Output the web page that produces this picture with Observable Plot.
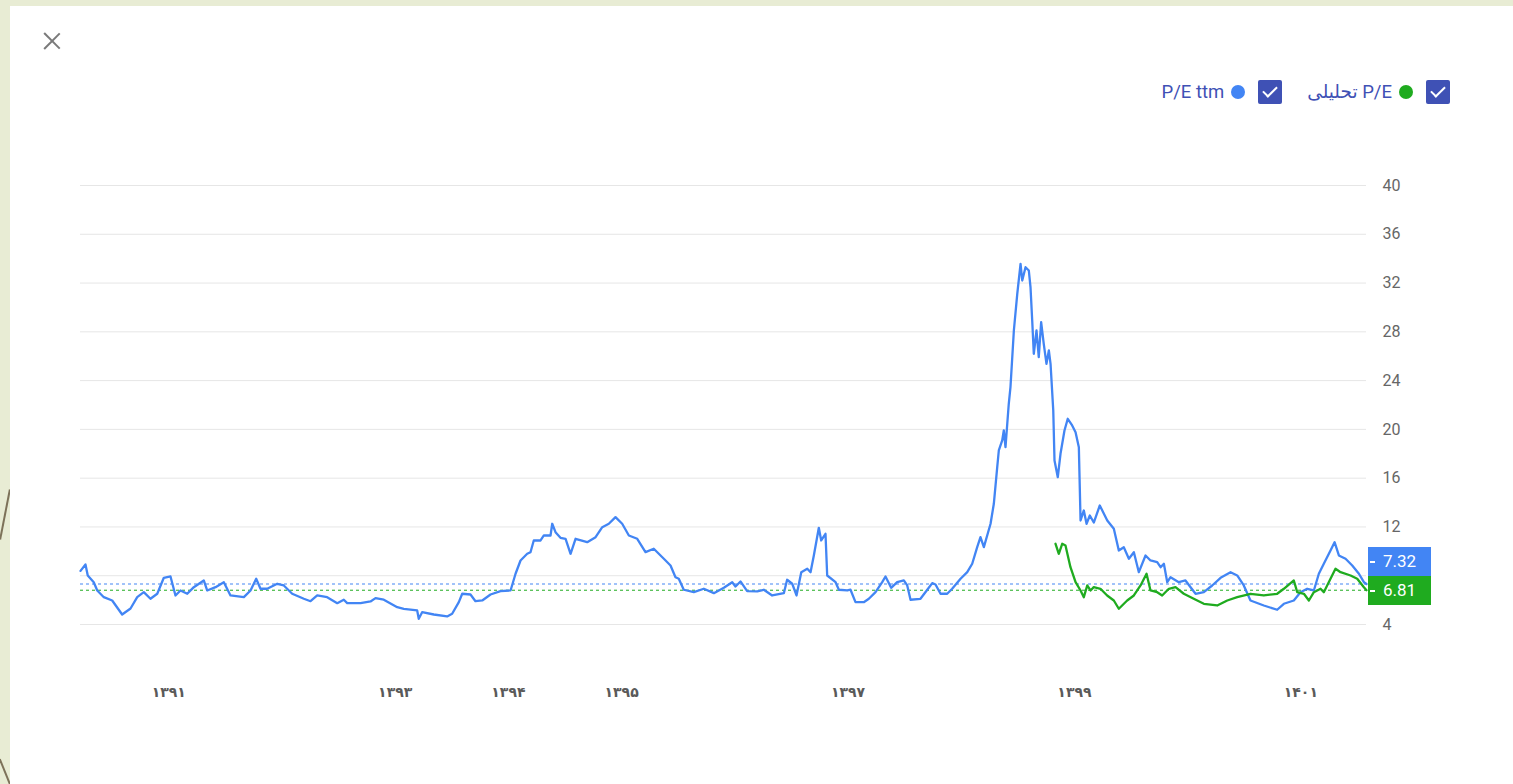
<!DOCTYPE html>
<html><head><meta charset="utf-8">
<script src="https://cdn.jsdelivr.net/npm/d3@7"></script>
<script src="https://cdn.jsdelivr.net/npm/@observablehq/plot@0.6"></script>
<style>
body{margin:0;background:#e8ecd4;width:1513px;height:784px;overflow:hidden;position:relative;font-family:Roboto,"DejaVu Sans",sans-serif;}
#card{position:absolute;left:10px;top:6px;width:1503px;height:778px;background:#fff;}
.deco{position:absolute;width:2px;background:#7d7259;}
#close{position:absolute;left:33px;top:26px;width:18px;height:18px;}
#close:before,#close:after{content:"";position:absolute;left:8px;top:-2px;width:1.6px;height:22px;background:#7a7a7a;}
#close:before{transform:rotate(45deg);} #close:after{transform:rotate(-45deg);}
#legend{position:absolute;right:63px;top:74px;display:flex;direction:rtl;align-items:center;font-size:18.5px;color:#3f51b5;}
.item{display:flex;align-items:center;direction:rtl;margin-left:25px;}
.cb{width:24px;height:24px;background:#3f51b5;border-radius:2px;position:relative;margin-left:13px;}
.cb:after{content:"";position:absolute;left:8px;top:3px;width:6px;height:12px;border:solid #fff;border-width:0 2.5px 2.5px 0;transform:rotate(45deg);}
.dot{width:14px;height:14px;border-radius:50%;margin-left:7px;}
#chart{position:absolute;left:0;top:144px;}
.badge{position:absolute;left:1358px;width:63px;height:29px;color:#fff;font-size:17px;line-height:29px;text-align:center;}
.badge:before{content:"";position:absolute;left:2px;top:14px;width:5px;height:1.5px;background:#fff;}
</style></head>
<body>
<div class="deco" style="left:4px;top:489px;height:51px;transform:rotate(11deg)"></div>
<div class="deco" style="left:4px;top:758px;height:28px;transform:rotate(-22deg)"></div>
<div id="card">
  <div id="close"></div>
  <div id="legend"></div>
  <div id="chart"></div>
</div>
<script>
const blueColor = "#4285f4";
const greenColor = "#1fab1f";
const seriesNames = ["P/E تحلیلی", "P/E ttm"];
const gridTicks = [4, 8, 12, 16, 20, 24, 28, 32, 36, 40];
const yLabelTicks = [4, 12, 16, 20, 24, 28, 32, 36, 40]; // "8" is hidden behind the value badge
const xTicks = [1391, 1393, 1394, 1395, 1397, 1399, 1401];
const xDomain = [1390.22, 1401.58];
const lastValues = {ttm: 7.32, forward: 6.81};

const ttmYears = [1390.22,1390.264,1390.284,1390.337,1390.368,1390.426,1390.50,1390.588,1390.662,1390.721,1390.779,1390.838,1390.898,1390.956,1391.015,1391.059,1391.103,1391.163,1391.221,1391.309,1391.339,1391.413,1391.486,1391.545,1391.663,1391.722,1391.772,1391.81,1391.869,1391.958,1392.016,1392.09,1392.193,1392.252,1392.311,1392.399,1392.488,1392.546,1392.576,1392.694,1392.782,1392.826,1392.899,1393.018,1393.076,1393.194,1393.208,1393.238,1393.341,1393.459,1393.503,1393.562,1393.592,1393.665,1393.709,1393.769,1393.842,1393.93,1394.019,1394.063,1394.107,1394.166,1394.195,1394.224,1394.284,1394.313,1394.372,1394.387,1394.416,1394.46,1394.505,1394.549,1394.593,1394.696,1394.77,1394.829,1394.887,1394.946,1395.005,1395.064,1395.138,1395.211,1395.284,1395.373,1395.432,1395.476,1395.505,1395.549,1395.638,1395.726,1395.815,1395.903,1395.977,1396.006,1396.05,1396.109,1396.198,1396.256,1396.33,1396.433,1396.462,1396.507,1396.545,1396.587,1396.64,1396.669,1396.698,1396.742,1396.763,1396.801,1396.816,1396.89,1396.919,1396.993,1397.022,1397.066,1397.139,1397.184,1397.243,1397.302,1397.331,1397.381,1397.434,1397.493,1397.523,1397.552,1397.64,1397.7,1397.744,1397.773,1397.817,1397.876,1397.92,1397.994,1398.053,1398.097,1398.141,1398.17,1398.2,1398.259,1398.288,1398.318,1398.332,1398.362,1398.376,1398.391,1398.42,1398.435,1398.465,1398.495,1398.524,1398.539,1398.568,1398.597,1398.612,1398.627,1398.641,1398.665,1398.685,1398.706,1398.729,1398.753,1398.774,1398.789,1398.813,1398.824,1398.853,1398.877,1398.912,1398.941,1398.98,1399.01,1399.039,1399.054,1399.083,1399.107,1399.136,1399.171,1399.224,1399.29,1399.348,1399.392,1399.436,1399.481,1399.525,1399.569,1399.628,1399.672,1399.731,1399.761,1399.79,1399.82,1399.849,1399.922,1399.981,1400.026,1400.07,1400.143,1400.217,1400.291,1400.379,1400.438,1400.496,1400.555,1400.673,1400.791,1400.85,1400.938,1400.997,1401.056,1401.115,1401.159,1401.203,1401.262,1401.298,1401.336,1401.395,1401.454,1401.513,1401.557,1401.58];
const ttmValues = [8.4,8.92,8.02,7.47,6.79,6.24,5.97,4.82,5.31,6.24,6.65,6.11,6.52,7.83,7.94,6.38,6.79,6.52,7.06,7.61,6.79,7.06,7.47,6.38,6.24,6.79,7.75,6.93,6.93,7.34,7.2,6.52,6.11,5.91,6.38,6.24,5.75,6.03,5.75,5.75,5.89,6.16,6.03,5.42,5.29,5.15,4.47,5.01,4.82,4.66,4.88,5.83,6.52,6.46,5.91,5.97,6.46,6.73,6.79,8.16,9.25,9.8,9.93,10.89,10.89,11.3,11.3,12.26,11.57,11.11,11.03,9.8,11.03,10.75,11.16,11.98,12.26,12.8,12.26,11.3,11.03,9.93,10.21,9.39,8.84,7.88,7.75,6.85,6.65,6.93,6.57,7.01,7.47,7.12,7.53,6.73,6.71,6.85,6.38,6.57,7.67,7.34,6.38,8.29,8.57,8.29,9.66,11.93,10.89,11.44,8.02,7.47,6.85,6.79,6.85,5.83,5.83,6.11,6.65,7.47,7.94,7.01,7.47,7.61,7.2,6.03,6.11,6.85,7.39,7.28,6.52,6.52,6.93,7.75,8.29,8.98,10.34,11.16,10.34,12.26,13.9,16.9,18.27,19.09,19.91,18.54,22.1,23.46,28.11,31.12,33.58,32.21,33.3,33.03,31.66,28.93,26.2,28.11,25.92,28.79,27.02,25.38,26.47,25.38,21.55,17.45,16.08,18.0,19.91,20.87,20.32,19.77,18.54,12.53,13.35,12.26,12.94,12.36,13.76,12.53,11.85,10.07,10.34,9.39,9.93,8.29,9.66,9.25,9.11,8.7,8.98,7.47,7.88,7.47,7.61,7.06,6.52,6.65,7.2,7.83,8.29,8.02,7.2,5.97,5.56,5.21,5.7,5.97,6.65,6.93,6.79,8.16,8.98,10.07,10.75,9.66,9.39,8.84,8.16,7.47,7.32];

const fwdYears = [1398.833,1398.862,1398.892,1398.921,1398.965,1399.01,1399.054,1399.083,1399.113,1399.142,1399.171,1399.23,1399.289,1399.348,1399.392,1399.466,1399.525,1399.584,1399.637,1399.672,1399.731,1399.775,1399.834,1399.893,1399.966,1400.054,1400.143,1400.261,1400.35,1400.438,1400.555,1400.673,1400.791,1400.85,1400.938,1400.968,1401.027,1401.071,1401.115,1401.174,1401.203,1401.262,1401.306,1401.351,1401.439,1401.498,1401.557,1401.58];
const fwdValues = [10.62,9.8,10.62,10.48,8.7,7.47,6.79,6.24,7.2,6.79,7.06,6.93,6.38,5.97,5.29,5.97,6.38,7.2,8.16,6.79,6.65,6.38,6.93,7.06,6.52,6.11,5.7,5.56,5.97,6.24,6.52,6.38,6.52,6.93,7.61,6.65,6.52,5.97,6.65,6.93,6.65,7.75,8.57,8.29,8.02,7.75,7.06,6.81];

const ttm = ttmYears.map((t, i) => ({t, v: ttmValues[i]}));
const fwd = fwdYears.map((t, i) => ({t, v: fwdValues[i]}));
const fa = d => String(d).replace(/\d/g, c => "۰۱۲۳۴۵۶۷۸۹"[c]);

// legend
const legend = document.getElementById("legend");
[[seriesNames[0], greenColor], [seriesNames[1], blueColor]].forEach(([name, col]) => {
  const it = document.createElement("div"); it.className = "item";
  it.innerHTML = `<div class="cb"></div><div class="dot" style="background:${col}"></div><span>${name}</span>`;
  legend.appendChild(it);
});

const chart = Plot.plot({
  width: 1503, height: 574,
  marginLeft: 70, marginRight: 147, marginTop: 35, marginBottom: 100,
  x: {domain: xDomain},
  y: {domain: [4, 40]},
  style: {fontFamily: 'Roboto, "DejaVu Sans", sans-serif', background: "transparent", overflow: "visible"},
  marks: [
    Plot.ruleY(gridTicks, {stroke: "#e6e6e6", strokeWidth: 1}),
    Plot.axisY(yLabelTicks, {anchor: "right", tickSize: 0, tickPadding: 16, fontSize: 16, fill: "#666", label: null}),
    Plot.axisX(xTicks, {anchor: "bottom", tickSize: 0, tickPadding: 63, tickFormat: fa, fontSize: 14, fontWeight: "bold", fill: "#5a5a5a", label: null}),
    Plot.ruleY([lastValues.ttm], {stroke: blueColor, strokeDasharray: "3,3", strokeWidth: 1}),
    Plot.ruleY([lastValues.forward], {stroke: greenColor, strokeDasharray: "3,3", strokeWidth: 1}),
    Plot.line(ttm, {x: "t", y: "v", stroke: blueColor, strokeWidth: 2.3}),
    Plot.line(fwd, {x: "t", y: "v", stroke: greenColor, strokeWidth: 2.3})
  ]
});
const holder = document.getElementById("chart");
holder.appendChild(chart);

// value badges at right, positioned through the y scale
const ys = chart.scale("y");
const card = document.getElementById("card");
const gCenter = 144 + ys.apply(lastValues.forward) + 1;
const bCenter = gCenter - 29;
[[lastValues.forward, greenColor, gCenter], [lastValues.ttm, blueColor, bCenter]].forEach(([v, col, c]) => {
  const b = document.createElement("div"); b.className = "badge";
  b.style.background = col; b.style.top = (c - 14.5) + "px";
  b.textContent = v.toFixed(2);
  card.appendChild(b);
});
</script>
</body></html>
